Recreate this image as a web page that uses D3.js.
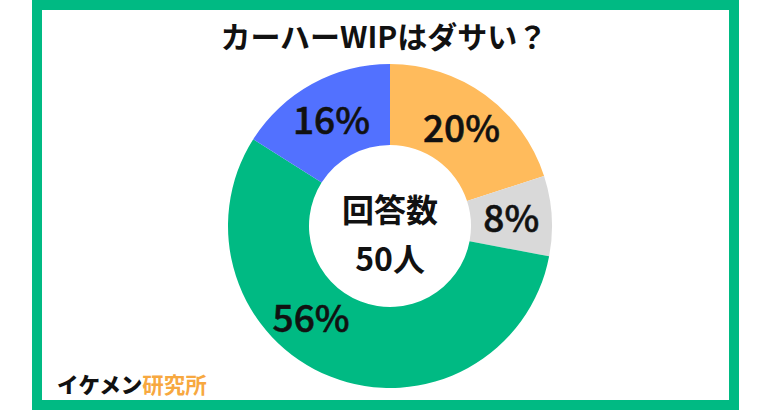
<!DOCTYPE html>
<html>
<head>
<meta charset="utf-8">
<script src="https://cdn.jsdelivr.net/npm/d3@7"></script>
<style>
  html, body { margin: 0; padding: 0; background: #ffffff; }
  svg { display: block; }
</style>
</head>
<body>
<svg id="chart" width="780" height="410"></svg>
<script>
// ---- data ----
const categories = ["20%", "8%", "56%", "16%"];
const values = [20, 8, 56, 16];
const titleText = "カーハーWIPはダサい？";
const centerLines = ["回答数", "50人"];
const brandParts = ["イケメン", "研究所"];

// ---- style ----
const palette = ["#ffbb5c", "#d9d9d9", "#00ba83", "#5271ff"];
const frameColor = "#00ba83";
const fontCJK = "'Noto Sans CJK JP', 'Noto Sans', sans-serif";

const svg = d3.select("#chart");
const cx = 390, cy = 226, R = 162, r = 81;

// frame
svg.append("rect")
  .attr("x", 37).attr("y", 5).attr("width", 697).attr("height", 400)
  .attr("fill", "#ffffff").attr("stroke", frameColor).attr("stroke-width", 10);

// title
svg.append("text")
  .attr("x", 384).attr("y", 35)
  .attr("text-anchor", "middle").attr("dominant-baseline", "central")
  .attr("font-family", fontCJK).attr("font-weight", 700).attr("font-size", 30)
  .attr("fill", "#111").text(titleText);

const color = d3.scaleOrdinal().domain(categories).range(palette);
const pie = d3.pie().sort(null).value(d => d.v);
const data = pie(values.map((v, i) => ({ v, c: categories[i] })));
const arc = d3.arc().innerRadius(r).outerRadius(R);
const labelArc = d3.arc().innerRadius((r + R) / 2).outerRadius((r + R) / 2);

const g = svg.append("g").attr("transform", `translate(${cx},${cy})`);
g.selectAll("path.slice").data(data).enter().append("path")
  .attr("class", "slice")
  .attr("d", arc)
  .attr("fill", d => color(d.data.c));

// label nudges (angle shift in radians), as placed in the reference
const nudge = { "56%": 0.33 };
g.selectAll("text.lbl").data(data).enter().append("text")
  .attr("class", "lbl")
  .attr("transform", d => {
    const s = nudge[d.data.c] || 0;
    const c = labelArc.centroid({ startAngle: d.startAngle + s, endAngle: d.endAngle + s });
    return `translate(${c[0]},${c[1] - 2})`;
  })
  .attr("text-anchor", "middle").attr("dominant-baseline", "central")
  .attr("font-family", fontCJK).attr("font-weight", 500).attr("font-size", 37)
  .attr("fill", "#111").attr("stroke", "#111").attr("stroke-width", 0.6)
  .text(d => d.data.c);

// center text
g.selectAll("text.ctr").data(centerLines).enter().append("text")
  .attr("class", "ctr")
  .attr("x", 0).attr("y", (d, i) => -18 + i * 49)
  .attr("text-anchor", "middle").attr("dominant-baseline", "central")
  .attr("font-family", fontCJK).attr("font-weight", 700).attr("font-size", 32)
  .attr("fill", "#111").text(d => d);

// brand
const brand = svg.append("text")
  .attr("x", 57).attr("y", 383)
  .attr("dominant-baseline", "central")
  .attr("font-family", fontCJK).attr("font-weight", 900).attr("font-size", 21.5);
brand.append("tspan").attr("fill", "#111").text(brandParts[0]);
brand.append("tspan").attr("fill", "#f7a840").attr("font-weight", 700).text(brandParts[1]);
</script>
</body>
</html>
